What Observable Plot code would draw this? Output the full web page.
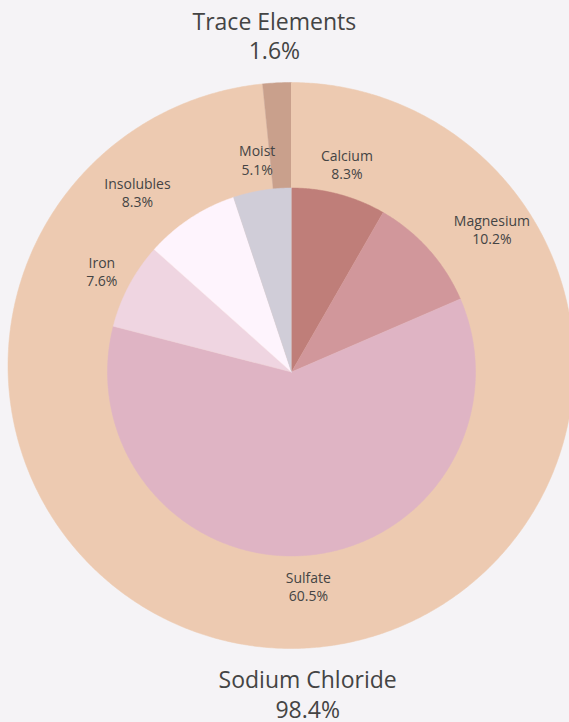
<!DOCTYPE html>
<html>
<head>
<meta charset="utf-8">
<script src="https://cdn.jsdelivr.net/npm/d3@7"></script>
<script src="https://cdn.jsdelivr.net/npm/@observablehq/plot@0.6"></script>
<style>
  html, body { margin: 0; padding: 0; background: #f5f3f6; overflow: hidden; }
  #chart { width: 569px; height: 722px; }
</style>
</head>
<body>
<div id="chart"></div>
<script>
// ---- data ----
const outerNames = ["Sodium Chloride", "Trace Elements"];
const outerValues = [98.4, 1.6];
const outerColors = ["#edcab1", "#c9a08c"];

const innerNames = ["Calcium", "Magnesium", "Sulfate", "Iron", "Insolubles", "Moist"];
const innerValues = [8.3, 10.2, 60.5, 7.6, 8.3, 5.1];
const innerColors = ["#bf7e79", "#d1979b", "#dfb4c4", "#efd5e1", "#fef4fd", "#d0cdd8"];

// ---- layout (pixel units: 1 data unit = 1 px) ----
const W = 569, H = 722;
const outerC = [0, 0], outerR = 283;
const innerC = [0.5, -6.5], innerR = 184;

function slices(names, values, center, r, ring) {
  const total = d3.sum(values);
  let acc = 0;
  const pts = [], mids = [];
  names.forEach((name, i) => {
    const a0 = acc / total * 2 * Math.PI;
    acc += values[i];
    const a1 = acc / total * 2 * Math.PI;
    const n = Math.max(2, Math.ceil((a1 - a0) / (Math.PI / 360)));
    pts.push({ring, name, x: center[0], y: center[1]});
    for (let k = 0; k <= n; k++) {
      const a = a0 + (a1 - a0) * k / n;
      pts.push({ring, name, x: center[0] + r * Math.sin(a), y: center[1] + r * Math.cos(a)});
    }
    mids.push({name, value: values[i], mid: (a0 + a1) / 2});
  });
  return {pts, mids};
}

const outer = slices(outerNames, outerValues, outerC, outerR, "outer");
const inner = slices(innerNames, innerValues, innerC, innerR, "inner");

// label placement
const innerLabelR = 215;
const innerAnchors = {Magnesium: "start", Insolubles: "end"};
const innerLabels = inner.mids.map(d => ({
  text: `${d.name}\n${d.value.toFixed(1)}%`,
  x: innerC[0] + innerLabelR * Math.sin(d.mid),
  y: innerC[1] + innerLabelR * Math.cos(d.mid),
  anchor: innerAnchors[d.name] || "middle"
}));
const outerLabelR = 331;
const outerNudge = {"Sodium Chloride": 3};
const outerLabels = outer.mids.map(d => ({
  text: `${d.name}\n${d.value.toFixed(1)}%`,
  x: outerC[0] + outerLabelR * Math.sin(d.mid),
  y: outerC[1] + outerLabelR * Math.cos(d.mid) + (outerNudge[d.name] || 0)
}));

const font = "'Open Sans', 'Noto Sans', sans-serif";
const innerText = {x: "x", y: "y", text: "text", fontSize: 14, lineHeight: 1.3, fill: "#444", fontFamily: font};

const chart = Plot.plot({
  width: W,
  height: H,
  margin: 0,
  x: {domain: [-290.5, W - 290.5], axis: null},
  y: {domain: [-(H - 365), 365], axis: null},
  color: {type: "ordinal", domain: [...outerNames, ...innerNames], range: [...outerColors, ...innerColors]},
  style: {background: "#f5f3f6", overflow: "hidden", fontFamily: font},
  marks: [
    Plot.line(outer.pts, {x: "x", y: "y", z: "name", fill: "name", stroke: "name", strokeWidth: 0.5, curve: "linear"}),
    Plot.line(inner.pts, {x: "x", y: "y", z: "name", fill: "name", stroke: "name", strokeWidth: 0.5, curve: "linear"}),
    Plot.text(innerLabels.filter(d => d.anchor === "middle"), {...innerText, textAnchor: "middle"}),
    Plot.text(innerLabels.filter(d => d.anchor === "start"), {...innerText, textAnchor: "middle", dx: 40}),
    Plot.text(innerLabels.filter(d => d.anchor === "end"), {...innerText, textAnchor: "middle", dx: -36}),
    Plot.text(outerLabels, {x: "x", y: "y", text: "text", fontSize: 23, lineHeight: 1.3, fill: "#444", textAnchor: "middle", fontFamily: font})
  ]
});
document.getElementById("chart").appendChild(chart);
</script>
</body>
</html>
